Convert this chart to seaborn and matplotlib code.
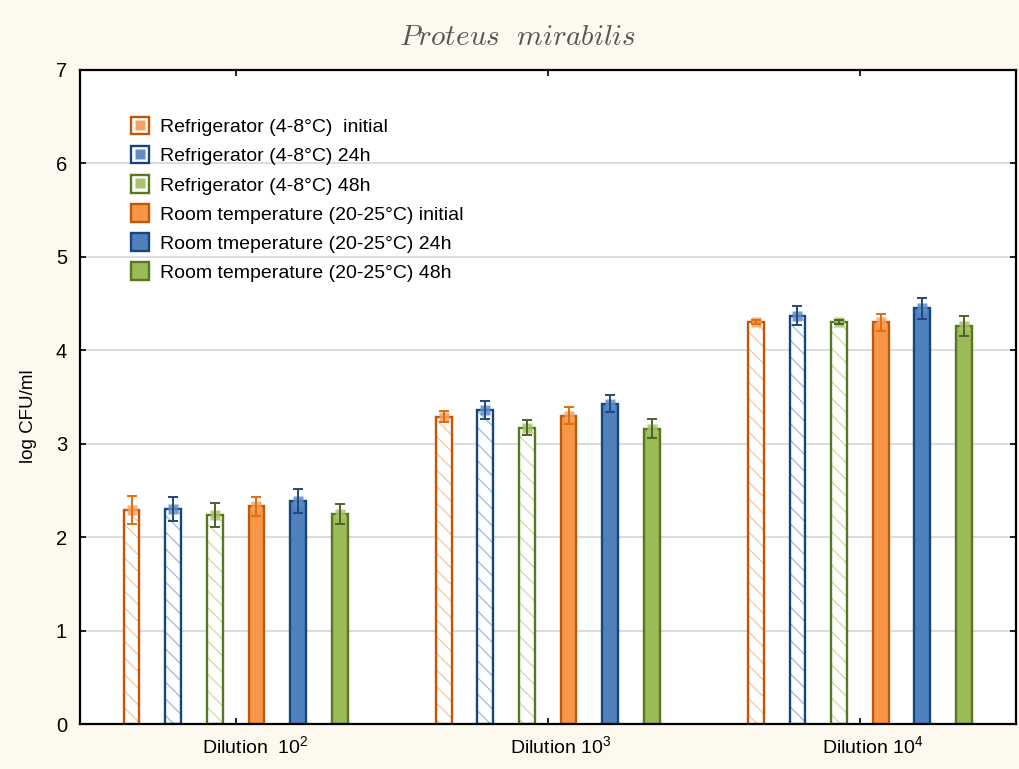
import numpy as np
import pandas as pd
import matplotlib.pyplot as plt
import seaborn as sns
from matplotlib.patches import Patch, Rectangle
from matplotlib.lines import Line2D
from matplotlib.transforms import ScaledTranslation

dilutions = ['Dilution  $10^2$', 'Dilution $10^3$', 'Dilution $10^4$']
conditions = ['Refrigerator (4-8°C)  initial',
              'Refrigerator (4-8°C) 24h',
              'Refrigerator (4-8°C) 48h',
              'Room temperature (20-25°C) initial',
              'Room tmeperature (20-25°C) 24h',
              'Room temperature (20-25°C) 48h']

ref_init = [2.29, 3.29, 4.30]
ref_24 = [2.30, 3.36, 4.37]
ref_48 = [2.24, 3.17, 4.30]
room_init = [2.33, 3.30, 4.30]
room_24 = [2.39, 3.43, 4.45]
room_48 = [2.25, 3.16, 4.26]

ref_init_err = [0.15, 0.06, 0.02]
ref_24_err = [0.13, 0.10, 0.10]
ref_48_err = [0.13, 0.08, 0.02]
room_init_err = [0.10, 0.09, 0.09]
room_24_err = [0.13, 0.09, 0.11]
room_48_err = [0.11, 0.10, 0.11]

values = [ref_init, ref_24, ref_48, room_init, room_24, room_48]
errors = [ref_init_err, ref_24_err, ref_48_err, room_init_err, room_24_err, room_48_err]
hatched = [True, True, True, False, False, False]

fill = ['#F79646', '#4F81BD', '#9BBB59'] * 2
edge = ['#C0580C', '#17457F', '#58781E'] * 2
hatch_col = ['#FBC49C', '#9CBAE0', '#C8DCA6'] * 2
mark_col = ['#F8A262', '#5F8DC6', '#A7C46B'] * 2
err_col = ['#E46C0A', '#1F497D', '#4F6228'] * 2

rows = []
for c, vals in zip(conditions, values):
    for d, v in zip(dilutions, vals):
        rows.append({'dilution': d, 'condition': c, 'value': v})
df = pd.DataFrame(rows)

sns.set_style('white')
plt.rcParams['font.family'] = ['Liberation Sans', 'DejaVu Sans']
plt.rcParams['mathtext.default'] = 'regular'
plt.rcParams['hatch.linewidth'] = 0.9
plt.rcParams['text.color'] = 'black'
plt.rcParams['axes.labelcolor'] = 'black'
plt.rcParams['xtick.color'] = 'black'
plt.rcParams['ytick.color'] = 'black'

fig = plt.figure(figsize=(10.2, 7.69), dpi=100, facecolor='#FDF9EE')
ax = fig.add_axes([0.078, 0.0585, 0.918, 0.8505])
ax.set_facecolor('white')

sns.barplot(data=df, x='dilution', y='value', hue='condition', order=dilutions,
            hue_order=conditions, palette=fill, saturation=1, errorbar=None,
            width=0.8, gap=0.62, ax=ax, legend=False, zorder=2)

bar_conts = list(ax.containers)
for i, cont in enumerate(bar_conts):
    for j, bar in enumerate(cont):
        if hatched[i]:
            bar.set_facecolor('white')
            bar.set_edgecolor(hatch_col[i])
            bar.set_hatch('\\\\')
            bar.set_linewidth(0)
            ax.add_patch(Rectangle(bar.get_xy(), bar.get_width(), bar.get_height(),
                                   fill=False, edgecolor=edge[i], lw=1.7, zorder=2.5))
        else:
            bar.set_edgecolor(edge[i])
            bar.set_linewidth(1.7)
        xc = bar.get_x() + bar.get_width() / 2
        ax.plot(xc, values[i][j], marker='s', ms=6.5, color=mark_col[i], alpha=0.85,
                mec='none', zorder=3)
        ax.errorbar(xc, values[i][j], yerr=errors[i][j], fmt='none', ecolor=err_col[i],
                    elinewidth=1.4, capsize=3.5, capthick=1.4, zorder=4)

ax.set_ylim(0, 7)
ax.set_xlim(-0.5, 2.5)
ax.set_yticks(range(0, 8))
ax.yaxis.grid(True, color='#D9D9D9', lw=1.3)
ax.set_axisbelow(True)
ax.set_xlabel('')
ax.set_ylabel('log CFU/ml', fontsize=13.5)
ax.yaxis.set_label_coords(-0.045, 0.471)
ax.tick_params(axis='x', direction='in', top=True, bottom=True, length=4, width=1.2,
               labelsize=14, pad=8)
ax.tick_params(axis='y', direction='in', left=True, right=True, length=4, width=1.2,
               labelsize=14.5, pad=9)
for s in ax.spines.values():
    s.set_color('black')
    s.set_linewidth(1.6)

# the dilution labels sit a little right of the tick marks in the original
for lab, dx in zip(ax.get_xticklabels(), [0.20, 0.13, 0.13]):
    lab.set_transform(lab.get_transform() + ScaledTranslation(dx, 0, fig.dpi_scale_trans))

handles = []
for i in range(6):
    if hatched[i]:
        handles.append((Patch(facecolor='white', edgecolor=edge[i], lw=1.7),
                        Line2D([], [], marker='s', ms=7, color=mark_col[i], ls='none', mec='none')))
    else:
        handles.append(Patch(facecolor=fill[i], edgecolor=edge[i], lw=1.7))
ax.legend(handles, conditions, loc='upper left', bbox_to_anchor=(0.047, 0.94), frameon=False,
          fontsize=14, handlelength=0.9, handleheight=1.0, handletextpad=0.55,
          labelspacing=0.5, borderaxespad=0)

fig.text(0.507, 0.952, r'$\mathit{Proteus\ \ mirabilis}$', ha='center', va='center',
         fontsize=21, math_fontfamily='cm', color='#555555')

fig.savefig('out.png', dpi=100, facecolor=fig.get_facecolor())
